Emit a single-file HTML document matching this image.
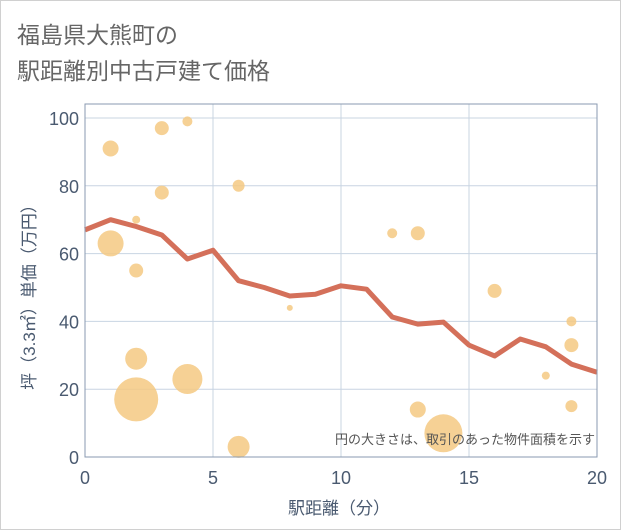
<!DOCTYPE html>
<html><head><meta charset="utf-8"><style>
body{margin:0;background:#fff;font-family:"Liberation Sans","Noto Sans CJK JP",sans-serif}
#wrap{position:relative;width:619px;height:528px;border:1px solid #d0d0d0;background:#fff}
</style></head><body>
<div id="wrap">
<svg id="chart" width="619" height="528" style="position:absolute;left:0;top:0">
<text x="16" y="42" font-size="23" fill="#666" font-family="Liberation Sans, Noto Sans CJK JP, sans-serif">福島県大熊町の</text>
<text x="16" y="78" font-size="23" fill="#666" font-family="Liberation Sans, Noto Sans CJK JP, sans-serif">駅距離別中古戸建て価格</text>
<g id="grid"></g><g id="bubbles"></g><g id="line"></g><g id="axes"></g>
<text x="594" y="443" font-size="13" fill="#555" text-anchor="end" font-family="Liberation Sans, Noto Sans CJK JP, sans-serif">円の大きさは、取引のあった物件面積を示す</text>
<text x="338" y="513" font-size="17" fill="#4a5a70" text-anchor="middle" font-family="Liberation Sans, Noto Sans CJK JP, sans-serif">駅距離（分）</text>
<text transform="translate(34,292) rotate(-90)" font-size="17" fill="#4a5a70" text-anchor="middle" font-family="Liberation Sans, Noto Sans CJK JP, sans-serif">坪（3.3㎡）単価（万円）</text>
</svg></div>
<script>
const lineX=[0,1,2,3,4,5,6,7,8,9,10,11,12,13,14,15,16,17,18,19,20];
const lineY=[67,70,68,65.5,58.4,61,52,50,47.5,48,50.5,49.5,41.3,39.2,39.8,33,29.8,34.8,32.5,27.4,25];
const bubX=[1,3,4,6,3,2,1,2,12,13,8,16,19,19,18,2,4,2,13,19,6,14];
const bubY=[91,97,99,80,78,70,63,55,66,66,44,49,40,33,24,29,23,17,14,15,3,7];
const bubR=[8,7,5,6,7,4,13,7,5,7,3,7,5,7,4,11,15,22,8,6,11,19];
const xTicks=[0,5,10,15,20];
const yTicks=[0,20,40,60,80,100];
const L=84,R=596,T=103,B=456;
const sx=v=>L+(R-L)*v/20, sy=v=>456-(456-117)*v/100;
const NS='http://www.w3.org/2000/svg';
function mk(p,t,a){const e=document.createElementNS(NS,t);for(const k in a)e.setAttribute(k,a[k]);p.appendChild(e);return e;}
const g=document.getElementById('grid'),ax=document.getElementById('axes');
xTicks.forEach(v=>{const l=mk(g,'line',{x1:sx(v),x2:sx(v),y1:T,y2:B,stroke:'#c8d4e2','stroke-width':1});

const t=mk(ax,'text',{x:sx(v),y:483,'font-size':18,fill:'#4a5a70','text-anchor':'middle'});t.textContent=v;
});
yTicks.forEach(v=>{const l=mk(g,'line',{x1:L,x2:R,y1:sy(v),y2:sy(v),stroke:'#c8d4e2','stroke-width':1});

const t=mk(ax,'text',{x:78,y:sy(v)+7,'font-size':18,fill:'#4a5a70','text-anchor':'end'});t.textContent=v;
});
const f=mk(ax,'rect',{x:L,y:T,width:R-L,height:B-T,fill:'none',stroke:'#8a9ab0','stroke-width':1});

const bg=document.getElementById('bubbles');
bubX.forEach((v,i)=>{const c=mk(bg,'circle',{cx:sx(v),cy:sy(bubY[i]),r:bubR[i],fill:'#f5c983','fill-opacity':0.85});
});
const p=mk(document.getElementById('line'),'polyline',{points:lineX.map((v,i)=>sx(v)+','+sy(lineY[i])).join(' '),fill:'none',stroke:'#d4705a','stroke-width':5,'stroke-linejoin':'round'});

</script></body></html>
